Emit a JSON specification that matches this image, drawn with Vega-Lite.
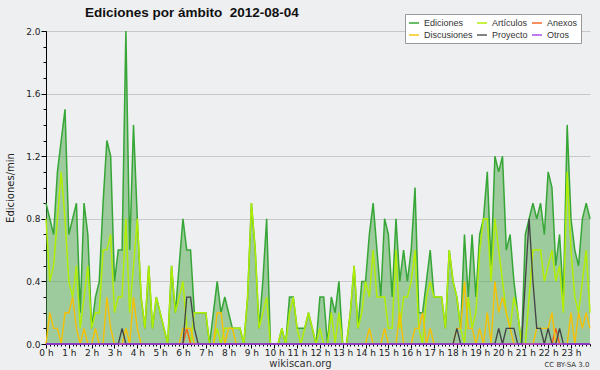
{
"$schema":"https://vega.github.io/schema/vega-lite/v6.json",
"width":544,"height":313,
"autosize":"none",
"padding":{"left":46,"top":31,"right":10,"bottom":26},
"background":"#eeeff0",
"config":{"view":{"fill":"#eeeff0","stroke":null},"font":"DejaVu Sans"},
"title":{"text":"Ediciones por ámbito\u00a0 2012-08-04","anchor":"start","frame":"group","dx":39,"offset":-6,"fontSize":13.5,"font":"Liberation Sans","fontWeight":"bold","color":"#111111"},
"data":{"values":[
{"m":0,"Ediciones":0.9,"Artículos":0.8,"Anexos":0,"Discusiones":0,"Proyecto":0,"Otros":0},
{"m":10,"Ediciones":0.8,"Artículos":0.4,"Anexos":0,"Discusiones":0.2,"Proyecto":0,"Otros":0},
{"m":20,"Ediciones":0.7,"Artículos":0.5,"Anexos":0,"Discusiones":0.1,"Proyecto":0,"Otros":0},
{"m":30,"Ediciones":1.1,"Artículos":0.8,"Anexos":0,"Discusiones":0.1,"Proyecto":0,"Otros":0},
{"m":40,"Ediciones":1.3,"Artículos":1.1,"Anexos":0,"Discusiones":0,"Proyecto":0,"Otros":0},
{"m":50,"Ediciones":1.5,"Artículos":0.8,"Anexos":0,"Discusiones":0.2,"Proyecto":0,"Otros":0},
{"m":60,"Ediciones":0.7,"Artículos":0.4,"Anexos":0,"Discusiones":0.2,"Proyecto":0,"Otros":0},
{"m":70,"Ediciones":0.8,"Artículos":0.3,"Anexos":0,"Discusiones":0.3,"Proyecto":0,"Otros":0},
{"m":80,"Ediciones":0.9,"Artículos":0.5,"Anexos":0,"Discusiones":0.1,"Proyecto":0,"Otros":0},
{"m":90,"Ediciones":0.2,"Artículos":0.1,"Anexos":0,"Discusiones":0,"Proyecto":0,"Otros":0},
{"m":100,"Ediciones":0.9,"Artículos":0.3,"Anexos":0,"Discusiones":0.1,"Proyecto":0,"Otros":0},
{"m":110,"Ediciones":0.7,"Artículos":0.5,"Anexos":0,"Discusiones":0,"Proyecto":0,"Otros":0},
{"m":120,"Ediciones":0.1,"Artículos":0.1,"Anexos":0,"Discusiones":0,"Proyecto":0,"Otros":0},
{"m":130,"Ediciones":0.3,"Artículos":0.2,"Anexos":0,"Discusiones":0.1,"Proyecto":0,"Otros":0},
{"m":140,"Ediciones":0.4,"Artículos":0.2,"Anexos":0,"Discusiones":0,"Proyecto":0,"Otros":0},
{"m":150,"Ediciones":0.9,"Artículos":0.6,"Anexos":0,"Discusiones":0,"Proyecto":0,"Otros":0},
{"m":160,"Ediciones":1.3,"Artículos":0.6,"Anexos":0,"Discusiones":0.3,"Proyecto":0,"Otros":0},
{"m":170,"Ediciones":1.2,"Artículos":0.7,"Anexos":0,"Discusiones":0.1,"Proyecto":0,"Otros":0},
{"m":180,"Ediciones":0.4,"Artículos":0.2,"Anexos":0,"Discusiones":0,"Proyecto":0,"Otros":0},
{"m":190,"Ediciones":0.6,"Artículos":0.3,"Anexos":0,"Discusiones":0,"Proyecto":0,"Otros":0},
{"m":200,"Ediciones":0.6,"Artículos":0.3,"Anexos":0,"Discusiones":0,"Proyecto":0.1,"Otros":0},
{"m":210,"Ediciones":2.0,"Artículos":0.8,"Anexos":0,"Discusiones":0.1,"Proyecto":0,"Otros":0},
{"m":220,"Ediciones":0.6,"Artículos":0.2,"Anexos":0,"Discusiones":0,"Proyecto":0,"Otros":0},
{"m":230,"Ediciones":1.4,"Artículos":0.5,"Anexos":0,"Discusiones":0.3,"Proyecto":0,"Otros":0},
{"m":240,"Ediciones":0.8,"Artículos":0.8,"Anexos":0,"Discusiones":0.1,"Proyecto":0,"Otros":0},
{"m":250,"Ediciones":0.3,"Artículos":0.3,"Anexos":0,"Discusiones":0,"Proyecto":0,"Otros":0},
{"m":260,"Ediciones":0.1,"Artículos":0.1,"Anexos":0,"Discusiones":0,"Proyecto":0,"Otros":0},
{"m":270,"Ediciones":0.5,"Artículos":0.5,"Anexos":0,"Discusiones":0,"Proyecto":0,"Otros":0},
{"m":280,"Ediciones":0.1,"Artículos":0.1,"Anexos":0,"Discusiones":0,"Proyecto":0,"Otros":0},
{"m":290,"Ediciones":0.3,"Artículos":0.3,"Anexos":0,"Discusiones":0,"Proyecto":0,"Otros":0},
{"m":300,"Ediciones":0.2,"Artículos":0.2,"Anexos":0,"Discusiones":0,"Proyecto":0,"Otros":0},
{"m":310,"Ediciones":0.1,"Artículos":0.1,"Anexos":0,"Discusiones":0,"Proyecto":0,"Otros":0},
{"m":320,"Ediciones":0,"Artículos":0,"Anexos":0,"Discusiones":0,"Proyecto":0,"Otros":0},
{"m":330,"Ediciones":0.5,"Artículos":0.5,"Anexos":0,"Discusiones":0,"Proyecto":0,"Otros":0},
{"m":340,"Ediciones":0.2,"Artículos":0.2,"Anexos":0,"Discusiones":0,"Proyecto":0,"Otros":0},
{"m":350,"Ediciones":0.5,"Artículos":0.3,"Anexos":0,"Discusiones":0,"Proyecto":0,"Otros":0},
{"m":360,"Ediciones":0.8,"Artículos":0.4,"Anexos":0,"Discusiones":0.1,"Proyecto":0,"Otros":0},
{"m":370,"Ediciones":0.6,"Artículos":0.1,"Anexos":0.1,"Discusiones":0.1,"Proyecto":0.3,"Otros":0},
{"m":380,"Ediciones":0.6,"Artículos":0,"Anexos":0,"Discusiones":0.1,"Proyecto":0.3,"Otros":0},
{"m":390,"Ediciones":0.2,"Artículos":0.2,"Anexos":0,"Discusiones":0,"Proyecto":0.1,"Otros":0},
{"m":400,"Ediciones":0.2,"Artículos":0.2,"Anexos":0,"Discusiones":0,"Proyecto":0,"Otros":0},
{"m":410,"Ediciones":0.2,"Artículos":0.2,"Anexos":0,"Discusiones":0,"Proyecto":0,"Otros":0},
{"m":420,"Ediciones":0.2,"Artículos":0.2,"Anexos":0,"Discusiones":0,"Proyecto":0,"Otros":0},
{"m":430,"Ediciones":0,"Artículos":0,"Anexos":0,"Discusiones":0,"Proyecto":0,"Otros":0},
{"m":440,"Ediciones":0.2,"Artículos":0,"Anexos":0,"Discusiones":0,"Proyecto":0,"Otros":0},
{"m":450,"Ediciones":0.4,"Artículos":0.1,"Anexos":0,"Discusiones":0.2,"Proyecto":0,"Otros":0},
{"m":460,"Ediciones":0.2,"Artículos":0,"Anexos":0,"Discusiones":0.2,"Proyecto":0,"Otros":0},
{"m":470,"Ediciones":0.3,"Artículos":0.1,"Anexos":0,"Discusiones":0,"Proyecto":0,"Otros":0},
{"m":480,"Ediciones":0.2,"Artículos":0.1,"Anexos":0,"Discusiones":0.1,"Proyecto":0,"Otros":0},
{"m":490,"Ediciones":0.1,"Artículos":0.1,"Anexos":0,"Discusiones":0.1,"Proyecto":0,"Otros":0},
{"m":500,"Ediciones":0.1,"Artículos":0.1,"Anexos":0,"Discusiones":0,"Proyecto":0,"Otros":0},
{"m":510,"Ediciones":0.1,"Artículos":0.1,"Anexos":0,"Discusiones":0,"Proyecto":0,"Otros":0},
{"m":520,"Ediciones":0,"Artículos":0,"Anexos":0,"Discusiones":0,"Proyecto":0,"Otros":0},
{"m":530,"Ediciones":0.3,"Artículos":0.3,"Anexos":0,"Discusiones":0,"Proyecto":0,"Otros":0},
{"m":540,"Ediciones":0.9,"Artículos":0.9,"Anexos":0,"Discusiones":0,"Proyecto":0,"Otros":0},
{"m":550,"Ediciones":0.6,"Artículos":0.6,"Anexos":0,"Discusiones":0,"Proyecto":0,"Otros":0},
{"m":560,"Ediciones":0.1,"Artículos":0.1,"Anexos":0,"Discusiones":0,"Proyecto":0,"Otros":0},
{"m":570,"Ediciones":0.4,"Artículos":0.2,"Anexos":0,"Discusiones":0,"Proyecto":0,"Otros":0},
{"m":580,"Ediciones":0.8,"Artículos":0.3,"Anexos":0,"Discusiones":0,"Proyecto":0,"Otros":0},
{"m":590,"Ediciones":0,"Artículos":0,"Anexos":0,"Discusiones":0,"Proyecto":0,"Otros":0},
{"m":600,"Ediciones":0,"Artículos":0,"Anexos":0,"Discusiones":0,"Proyecto":0,"Otros":0},
{"m":610,"Ediciones":0,"Artículos":0,"Anexos":0,"Discusiones":0,"Proyecto":0,"Otros":0},
{"m":620,"Ediciones":0.1,"Artículos":0.1,"Anexos":0,"Discusiones":0,"Proyecto":0,"Otros":0},
{"m":630,"Ediciones":0,"Artículos":0,"Anexos":0,"Discusiones":0,"Proyecto":0,"Otros":0},
{"m":640,"Ediciones":0.3,"Artículos":0.2,"Anexos":0,"Discusiones":0,"Proyecto":0,"Otros":0},
{"m":650,"Ediciones":0.3,"Artículos":0.3,"Anexos":0,"Discusiones":0,"Proyecto":0,"Otros":0},
{"m":660,"Ediciones":0.1,"Artículos":0.1,"Anexos":0,"Discusiones":0,"Proyecto":0,"Otros":0},
{"m":670,"Ediciones":0.1,"Artículos":0,"Anexos":0,"Discusiones":0,"Proyecto":0,"Otros":0},
{"m":680,"Ediciones":0.1,"Artículos":0.1,"Anexos":0,"Discusiones":0,"Proyecto":0,"Otros":0},
{"m":690,"Ediciones":0.2,"Artículos":0.2,"Anexos":0,"Discusiones":0,"Proyecto":0,"Otros":0},
{"m":700,"Ediciones":0.1,"Artículos":0.1,"Anexos":0,"Discusiones":0,"Proyecto":0,"Otros":0},
{"m":710,"Ediciones":0,"Artículos":0,"Anexos":0,"Discusiones":0,"Proyecto":0,"Otros":0},
{"m":720,"Ediciones":0.3,"Artículos":0.1,"Anexos":0,"Discusiones":0,"Proyecto":0,"Otros":0},
{"m":730,"Ediciones":0.3,"Artículos":0,"Anexos":0,"Discusiones":0,"Proyecto":0,"Otros":0},
{"m":740,"Ediciones":0,"Artículos":0,"Anexos":0,"Discusiones":0,"Proyecto":0,"Otros":0},
{"m":750,"Ediciones":0.3,"Artículos":0.2,"Anexos":0,"Discusiones":0,"Proyecto":0,"Otros":0},
{"m":760,"Ediciones":0.2,"Artículos":0,"Anexos":0,"Discusiones":0,"Proyecto":0,"Otros":0},
{"m":770,"Ediciones":0.4,"Artículos":0.2,"Anexos":0,"Discusiones":0,"Proyecto":0,"Otros":0},
{"m":780,"Ediciones":0,"Artículos":0,"Anexos":0,"Discusiones":0,"Proyecto":0,"Otros":0},
{"m":790,"Ediciones":0,"Artículos":0,"Anexos":0,"Discusiones":0,"Proyecto":0,"Otros":0},
{"m":800,"Ediciones":0.2,"Artículos":0.2,"Anexos":0,"Discusiones":0,"Proyecto":0,"Otros":0},
{"m":810,"Ediciones":0.5,"Artículos":0.5,"Anexos":0,"Discusiones":0,"Proyecto":0,"Otros":0},
{"m":820,"Ediciones":0.1,"Artículos":0.1,"Anexos":0,"Discusiones":0,"Proyecto":0,"Otros":0},
{"m":830,"Ediciones":0.4,"Artículos":0.2,"Anexos":0,"Discusiones":0,"Proyecto":0,"Otros":0},
{"m":840,"Ediciones":0.4,"Artículos":0.4,"Anexos":0,"Discusiones":0,"Proyecto":0,"Otros":0},
{"m":850,"Ediciones":0.7,"Artículos":0.3,"Anexos":0,"Discusiones":0.1,"Proyecto":0,"Otros":0},
{"m":860,"Ediciones":0.9,"Artículos":0.6,"Anexos":0,"Discusiones":0,"Proyecto":0,"Otros":0},
{"m":870,"Ediciones":0.6,"Artículos":0.3,"Anexos":0,"Discusiones":0,"Proyecto":0,"Otros":0},
{"m":880,"Ediciones":0.3,"Artículos":0.3,"Anexos":0,"Discusiones":0,"Proyecto":0,"Otros":0},
{"m":890,"Ediciones":0.8,"Artículos":0.3,"Anexos":0,"Discusiones":0.1,"Proyecto":0,"Otros":0},
{"m":900,"Ediciones":0.7,"Artículos":0.1,"Anexos":0,"Discusiones":0,"Proyecto":0,"Otros":0},
{"m":910,"Ediciones":0.3,"Artículos":0.1,"Anexos":0,"Discusiones":0,"Proyecto":0,"Otros":0},
{"m":920,"Ediciones":0.8,"Artículos":0.6,"Anexos":0,"Discusiones":0,"Proyecto":0,"Otros":0},
{"m":930,"Ediciones":0.4,"Artículos":0.1,"Anexos":0,"Discusiones":0.2,"Proyecto":0,"Otros":0},
{"m":940,"Ediciones":0.6,"Artículos":0.3,"Anexos":0,"Discusiones":0,"Proyecto":0,"Otros":0},
{"m":950,"Ediciones":0.4,"Artículos":0.3,"Anexos":0,"Discusiones":0,"Proyecto":0,"Otros":0},
{"m":960,"Ediciones":0.6,"Artículos":0.4,"Anexos":0,"Discusiones":0,"Proyecto":0,"Otros":0},
{"m":970,"Ediciones":1.0,"Artículos":0.6,"Anexos":0,"Discusiones":0.1,"Proyecto":0,"Otros":0},
{"m":980,"Ediciones":0.2,"Artículos":0.1,"Anexos":0,"Discusiones":0.1,"Proyecto":0,"Otros":0},
{"m":990,"Ediciones":0.2,"Artículos":0,"Anexos":0,"Discusiones":0.2,"Proyecto":0,"Otros":0},
{"m":1000,"Ediciones":0.4,"Artículos":0.3,"Anexos":0,"Discusiones":0,"Proyecto":0,"Otros":0},
{"m":1010,"Ediciones":0.6,"Artículos":0.4,"Anexos":0,"Discusiones":0.1,"Proyecto":0,"Otros":0},
{"m":1020,"Ediciones":0.3,"Artículos":0.3,"Anexos":0,"Discusiones":0,"Proyecto":0,"Otros":0},
{"m":1030,"Ediciones":0.3,"Artículos":0.3,"Anexos":0,"Discusiones":0,"Proyecto":0,"Otros":0},
{"m":1040,"Ediciones":0.3,"Artículos":0.3,"Anexos":0,"Discusiones":0,"Proyecto":0,"Otros":0},
{"m":1050,"Ediciones":0.1,"Artículos":0.1,"Anexos":0,"Discusiones":0,"Proyecto":0,"Otros":0},
{"m":1060,"Ediciones":0.6,"Artículos":0.6,"Anexos":0,"Discusiones":0,"Proyecto":0,"Otros":0},
{"m":1070,"Ediciones":0.4,"Artículos":0.4,"Anexos":0,"Discusiones":0,"Proyecto":0,"Otros":0},
{"m":1080,"Ediciones":0.3,"Artículos":0.3,"Anexos":0,"Discusiones":0.1,"Proyecto":0.1,"Otros":0},
{"m":1090,"Ediciones":0.1,"Artículos":0.1,"Anexos":0,"Discusiones":0.1,"Proyecto":0,"Otros":0},
{"m":1100,"Ediciones":0.7,"Artículos":0,"Anexos":0,"Discusiones":0.4,"Proyecto":0,"Otros":0},
{"m":1110,"Ediciones":0.3,"Artículos":0.3,"Anexos":0,"Discusiones":0.1,"Proyecto":0,"Otros":0},
{"m":1120,"Ediciones":0.7,"Artículos":0.1,"Anexos":0,"Discusiones":0.1,"Proyecto":0,"Otros":0},
{"m":1130,"Ediciones":0.3,"Artículos":0.2,"Anexos":0,"Discusiones":0,"Proyecto":0,"Otros":0},
{"m":1140,"Ediciones":0.7,"Artículos":0.6,"Anexos":0,"Discusiones":0.1,"Proyecto":0,"Otros":0},
{"m":1150,"Ediciones":0.8,"Artículos":0.8,"Anexos":0,"Discusiones":0,"Proyecto":0,"Otros":0},
{"m":1160,"Ediciones":1.1,"Artículos":0.8,"Anexos":0,"Discusiones":0.2,"Proyecto":0,"Otros":0},
{"m":1170,"Ediciones":0.5,"Artículos":0.4,"Anexos":0,"Discusiones":0,"Proyecto":0,"Otros":0},
{"m":1180,"Ediciones":1.2,"Artículos":0.8,"Anexos":0,"Discusiones":0.4,"Proyecto":0,"Otros":0},
{"m":1190,"Ediciones":1.1,"Artículos":0.6,"Anexos":0,"Discusiones":0.2,"Proyecto":0.1,"Otros":0},
{"m":1200,"Ediciones":1.2,"Artículos":0.4,"Anexos":0,"Discusiones":0.3,"Proyecto":0,"Otros":0},
{"m":1210,"Ediciones":0.6,"Artículos":0.2,"Anexos":0,"Discusiones":0.2,"Proyecto":0.1,"Otros":0},
{"m":1220,"Ediciones":0.7,"Artículos":0.1,"Anexos":0,"Discusiones":0.1,"Proyecto":0.1,"Otros":0},
{"m":1230,"Ediciones":0.4,"Artículos":0.3,"Anexos":0,"Discusiones":0,"Proyecto":0.1,"Otros":0},
{"m":1240,"Ediciones":0.2,"Artículos":0.2,"Anexos":0,"Discusiones":0,"Proyecto":0,"Otros":0},
{"m":1250,"Ediciones":0,"Artículos":0,"Anexos":0,"Discusiones":0,"Proyecto":0,"Otros":0},
{"m":1260,"Ediciones":0.7,"Artículos":0,"Anexos":0,"Discusiones":0,"Proyecto":0.4,"Otros":0},
{"m":1270,"Ediciones":0.8,"Artículos":0.3,"Anexos":0,"Discusiones":0,"Proyecto":0.8,"Otros":0},
{"m":1280,"Ediciones":0.9,"Artículos":0.6,"Anexos":0,"Discusiones":0,"Proyecto":0.4,"Otros":0},
{"m":1290,"Ediciones":0.8,"Artículos":0.6,"Anexos":0,"Discusiones":0.1,"Proyecto":0.1,"Otros":0},
{"m":1300,"Ediciones":0.9,"Artículos":0.6,"Anexos":0,"Discusiones":0.1,"Proyecto":0.1,"Otros":0},
{"m":1310,"Ediciones":0.7,"Artículos":0.4,"Anexos":0,"Discusiones":0.1,"Proyecto":0,"Otros":0},
{"m":1320,"Ediciones":1.1,"Artículos":0.5,"Anexos":0,"Discusiones":0.1,"Proyecto":0.1,"Otros":0},
{"m":1330,"Ediciones":1.0,"Artículos":0.6,"Anexos":0,"Discusiones":0.2,"Proyecto":0,"Otros":0},
{"m":1340,"Ediciones":0.5,"Artículos":0.4,"Anexos":0.1,"Discusiones":0,"Proyecto":0,"Otros":0},
{"m":1350,"Ediciones":0.7,"Artículos":0.5,"Anexos":0,"Discusiones":0,"Proyecto":0.1,"Otros":0},
{"m":1360,"Ediciones":0.3,"Artículos":0.2,"Anexos":0,"Discusiones":0,"Proyecto":0,"Otros":0},
{"m":1370,"Ediciones":1.4,"Artículos":1.1,"Anexos":0,"Discusiones":0,"Proyecto":0,"Otros":0},
{"m":1380,"Ediciones":0.8,"Artículos":0.6,"Anexos":0,"Discusiones":0.2,"Proyecto":0,"Otros":0},
{"m":1390,"Ediciones":0.6,"Artículos":0.3,"Anexos":0,"Discusiones":0,"Proyecto":0,"Otros":0},
{"m":1400,"Ediciones":0.5,"Artículos":0.2,"Anexos":0,"Discusiones":0.2,"Proyecto":0,"Otros":0},
{"m":1410,"Ediciones":0.8,"Artículos":0.4,"Anexos":0,"Discusiones":0.1,"Proyecto":0,"Otros":0},
{"m":1420,"Ediciones":0.9,"Artículos":0.6,"Anexos":0,"Discusiones":0.2,"Proyecto":0,"Otros":0},
{"m":1430,"Ediciones":0.8,"Artículos":0.2,"Anexos":0,"Discusiones":0.1,"Proyecto":0,"Otros":0}
]},
"resolve":{"axis":{"x":"independent","y":"independent"}},
"layer":[
{"mark":{"type":"area","color":"#4ea84c","opacity":0.5},
 "encoding":{
  "x":{"field":"m","type":"quantitative","scale":{"domain":[0,1430],"nice":false,"zero":false},
   "axis":{"values":[0,60,120,180,240,300,360,420,480,540,600,660,720,780,840,900,960,1020,1080,1140,1200,1260,1320,1380],
    "labelExpr":"datum.value/60 + ' h'","grid":false,"tickSize":4,"tickColor":"#000000","domainColor":"#000000",
    "labelFontSize":9,"labelPadding":0,"labelColor":"#222222","labelFlush":false,
    "title":"wikiscan.org","titleFontSize":10,"titleFontWeight":"normal","titleColor":"#333333",
    "titleX":254,"titleY":22,"titleAlign":"center","titleBaseline":"alphabetic"}},
  "y":{"field":"Ediciones","type":"quantitative","scale":{"domain":[0,2],"nice":false},
   "axis":{"values":[0,0.4,0.8,1.2,1.6,2.0],"format":".1f","grid":true,"gridColor":"#c8c8c8","tickSize":5,"tickColor":"#000000","domainColor":"#000000",
    "labelFontSize":9,"labelPadding":1,"labelColor":"#222222",
    "title":"Ediciones/min","titleFontSize":10,"titleFontWeight":"normal","titleColor":"#222222",
    "titleX":-36,"titleY":156.5,"titleAngle":-90,"titleAlign":"center","titleBaseline":"middle"}}
 }},
{"transform":[{"fold":["Ediciones","Artículos","Anexos","Discusiones","Proyecto","Otros"],"as":["serie","valor"]}],
 "mark":{"type":"line","interpolate":"linear"},
 "encoding":{
  "x":{"field":"m","type":"quantitative","axis":{"orient":"bottom","tickCount":143,"labels":false,"domain":false,"grid":false,"tickSize":2,"tickColor":"#000000",
    "title":"CC BY-SA 3.0","titleFontSize":7,"titleFontWeight":"normal","titleColor":"#333333","titleX":543,"titleY":22,"titleAlign":"right","titleBaseline":"alphabetic"}},
  "y":{"field":"valor","type":"quantitative","axis":{"orient":"left","tickCount":20,"labels":false,"domain":false,"grid":false,"tickSize":3,"tickColor":"#000000","title":null}},
  "color":{"field":"serie","type":"nominal",
   "scale":{"domain":["Ediciones","Artículos","Anexos","Discusiones","Proyecto","Otros"],"range":["#36a636","#b2ee00","#f5621e","#f7c000","#444444","#9933ee"]},
   "legend":{"orient":"none","legendX":359,"legendY":-17,"direction":"horizontal","columns":3,"title":null,"symbolType":"stroke","symbolSize":100,"symbolStrokeWidth":1.5,
    "labelFontSize":9,"labelFont":"Liberation Sans","labelColor":"#333333","labelOffset":4,
    "fillColor":"#ffffff","strokeColor":"#999999","padding":3,"rowPadding":1,"columnPadding":1}},
  "strokeWidth":{"field":"serie","type":"nominal","scale":{"domain":["Ediciones","Artículos","Anexos","Discusiones","Proyecto","Otros"],"range":[1.5,1.3,1,1,1,1]},"legend":null}
 }}
]
}
